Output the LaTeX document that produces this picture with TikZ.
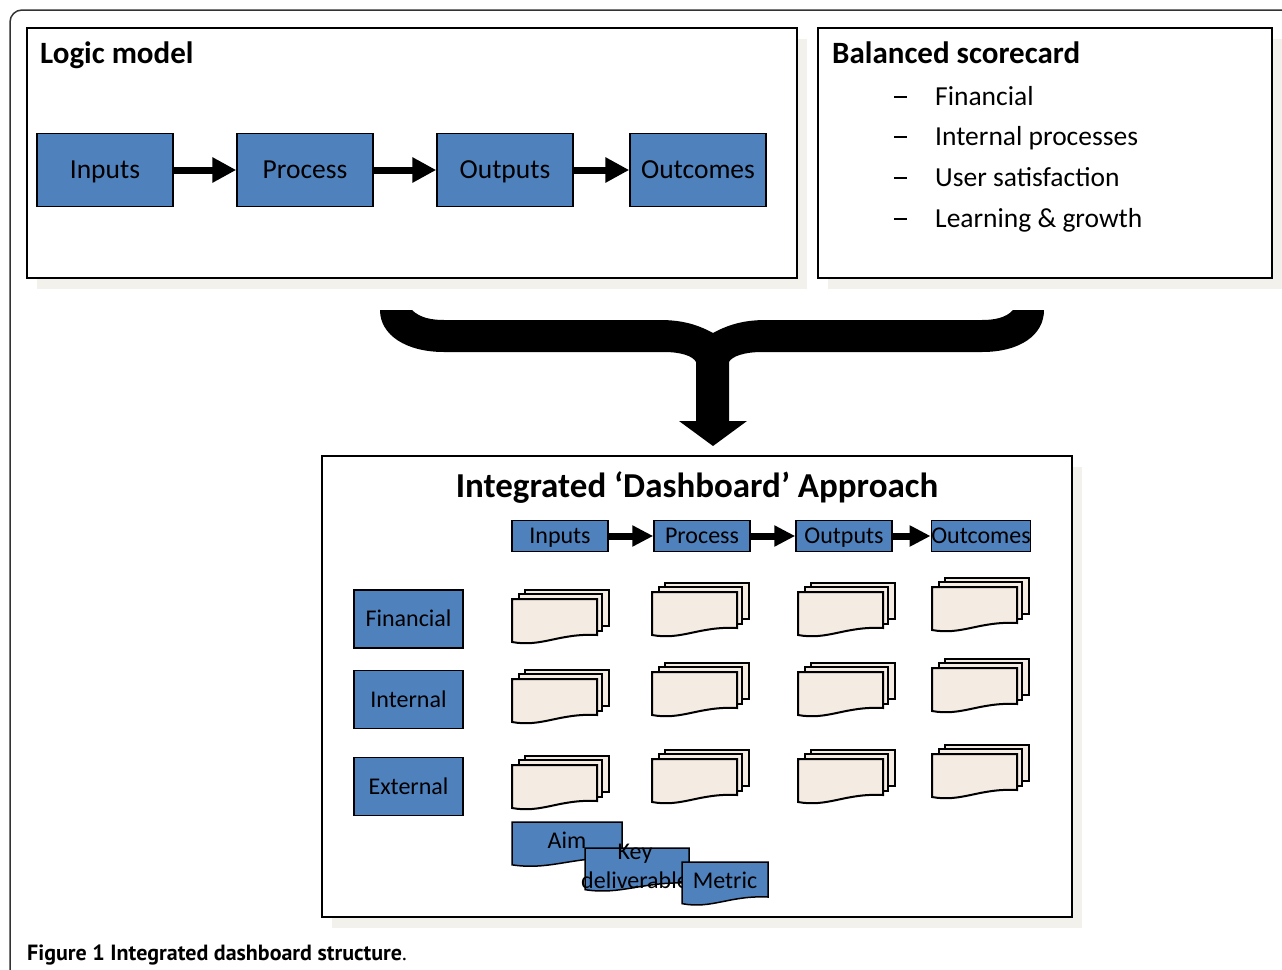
\documentclass[tikz,border=0pt]{standalone}
\usepackage{fontspec}
\setmainfont{Carlito}
\newfontfamily\captionfont{PT Sans}
\usetikzlibrary{arrows.meta,shadows}
\definecolor{boxblue}{RGB}{79,129,189}
\definecolor{docfill}{RGB}{244,235,226}
\definecolor{shadowcol}{RGB}{242,241,236}
\definecolor{framegray}{RGB}{51,51,51}

\begin{document}
\begin{tikzpicture}[x=1pt, y=-1pt,
    panel/.style={draw, line width=2pt, fill=white, inner sep=0pt,
        drop shadow={shadow xshift=10pt, shadow yshift=-11pt, fill=shadowcol, opacity=1}},
    paneltitle/.style={anchor=base west, inner sep=0pt, font=\bfseries\fontsize{31}{37}\selectfont},
    flowbox/.style={draw=black, line width=1.5pt, fill=boxblue, inner sep=0pt,
        text height=20pt, text depth=2.2pt,
        minimum width=136pt, minimum height=73pt, font=\fontsize{27.5}{33}\selectfont},
    rowbox/.style={flowbox, minimum width=96pt, minimum height=31pt, text height=17.6pt,
        font=\fontsize{24}{29}\selectfont},
    catbox/.style={flowbox, minimum width=109pt, minimum height=58pt, text height=17.6pt,
        font=\fontsize{24}{29}\selectfont},
    listtext/.style={anchor=base west, inner sep=0pt, font=\fontsize{27.5}{33}\selectfont},
    labeltext/.style={inner sep=0pt, align=center, font=\fontsize{24}{29}\selectfont},
    flowarrow/.style={line width=7pt, -{Triangle[length=24pt, width=24pt]}},
    smallarrow/.style={line width=7pt, -{Triangle[length=21pt, width=20pt]}},
    docstack/.pic={
        \path[draw, fill=docfill, line width=2pt] (13,-9) rectangle (97,27);
        \path[draw, fill=docfill, line width=2pt] (7,-5) rectangle (90,32);
        \path[draw, fill=docfill, line width=2pt] (0,0) -- (85,0) -- (85,36)
            .. controls (47,34) and (30,48.5) .. (0,43) -- cycle;
    },
    docpage/.pic={
        \path[pic actions] (0,0) -- (1,0) -- (1,1)
            .. controls (0.55,0.95) and (0.35,1.35) .. (0,1.19) -- cycle;
    }]
    \useasboundingbox (0,0) rectangle (1282,969);

    % Outer frame
    \draw[framegray, line width=1.5pt, rounded corners=12pt] (10,980) -- (10,10) -- (1295,10);

    % Panels
    \node[panel, minimum width=770pt, minimum height=250pt] (logic) at (412,153) {};
    \node[panel, minimum width=454pt, minimum height=250pt] (bsc) at (1045,153) {};
    \node[panel, minimum width=750pt, minimum height=461pt] (dash) at (697,686.5) {};

    \node[paneltitle] (logictitle) at (40,63) {Logic model};
    \node[paneltitle] (bsctitle) at (832,63) {Balanced scorecard};

    % Logic model chain
    \node[flowbox] (in1) at (105,170) {Inputs};
    \node[flowbox] (pr1) at (305,170) {Process};
    \node[flowbox] (ou1) at (505,170) {Outputs};
    \node[flowbox] (oc1) at (698,170) {Outcomes};
    \draw[flowarrow] (in1) -- (pr1);
    \draw[flowarrow] (pr1) -- (ou1);
    \draw[flowarrow] (ou1) -- (oc1);

    % Scorecard list
    \foreach \txt [count=\i] in {Financial, Internal processes, User satisfaction, Learning \& growth} {
        \node[listtext] (dash\i) at (894,{105+(\i-1)*40.7}) {\rule[0.27em]{13pt}{2pt}};
        \node[listtext] (item\i) at (935,{105+(\i-1)*40.7}) {\txt};
    }

    % Merging brace
    \fill[black] (380,310) -- (412,310)
        .. controls (420,318) and (432,320) .. (444,320) -- (660,320)
        .. controls (685,320) and (700,326) .. (713,333)
        .. controls (726,326) and (741,320) .. (766,320) -- (982,320)
        .. controls (994,320) and (1006,318) .. (1013,310) -- (1044,310)
        .. controls (1044,335) and (1020,352) .. (982,352) -- (762,352)
        .. controls (745,352) and (732,356) .. (729,362)
        -- (729,421) -- (747,421) -- (713,446) -- (679,421) -- (696,421) -- (696,362)
        .. controls (693,356) and (681,352) .. (664,352) -- (444,352)
        .. controls (406,352) and (380,335) .. (380,310) -- cycle;

    % Dashboard
    \node[anchor=base, inner sep=0pt, font=\bfseries\fontsize{35}{42}\selectfont] (dashtitle) at (697,497)
        {Integrated ‘Dashboard’ Approach};

    \node[rowbox] (in2) at (560,536) {Inputs};
    \node[rowbox] (pr2) at (702,536) {Process};
    \node[rowbox] (ou2) at (844,536) {Outputs};
    \node[rowbox] (oc2) at (981,536) {Outcomes};
    \draw[smallarrow] (in2) -- (pr2);
    \draw[smallarrow] (pr2) -- (ou2);
    \draw[smallarrow] (ou2) -- (oc2);

    \node[catbox] (fin) at (408.5,619) {Financial};
    \node[catbox] (int) at (408.5,699.5) {Internal};
    \node[catbox] (ext) at (408.5,786.5) {External};

    \foreach \x/\y in {512/599, 512/679, 512/765, 652/592, 652/672, 652/759,
                       798/592, 798/672, 798/759, 932/587, 932/668, 932/754}
        \pic at (\x,\y) {docstack};

    % Legend
    \pic[draw=black, fill=boxblue, line width=1.5pt, xscale=110, yscale=36] at (512,822) {docpage};
    \node[labeltext] (aim) at (567,840) {Aim};
    \pic[draw=black, fill=boxblue, line width=1.5pt, xscale=104, yscale=35] at (585,848) {docpage};
    \node[labeltext] (key) at (635,866) {Key\\deliverable};
    \pic[draw=black, fill=boxblue, line width=1.5pt, xscale=86, yscale=35] at (682,862) {docpage};
    \node[labeltext] (metric) at (725,880) {Metric};

    % Caption
    \node[anchor=base west, inner sep=0pt, font=\captionfont\fontsize{22}{26}\selectfont] (caption) at (27,960)
        {\textbf{Figure 1 Integrated dashboard structure}.};
\end{tikzpicture}
\end{document}
